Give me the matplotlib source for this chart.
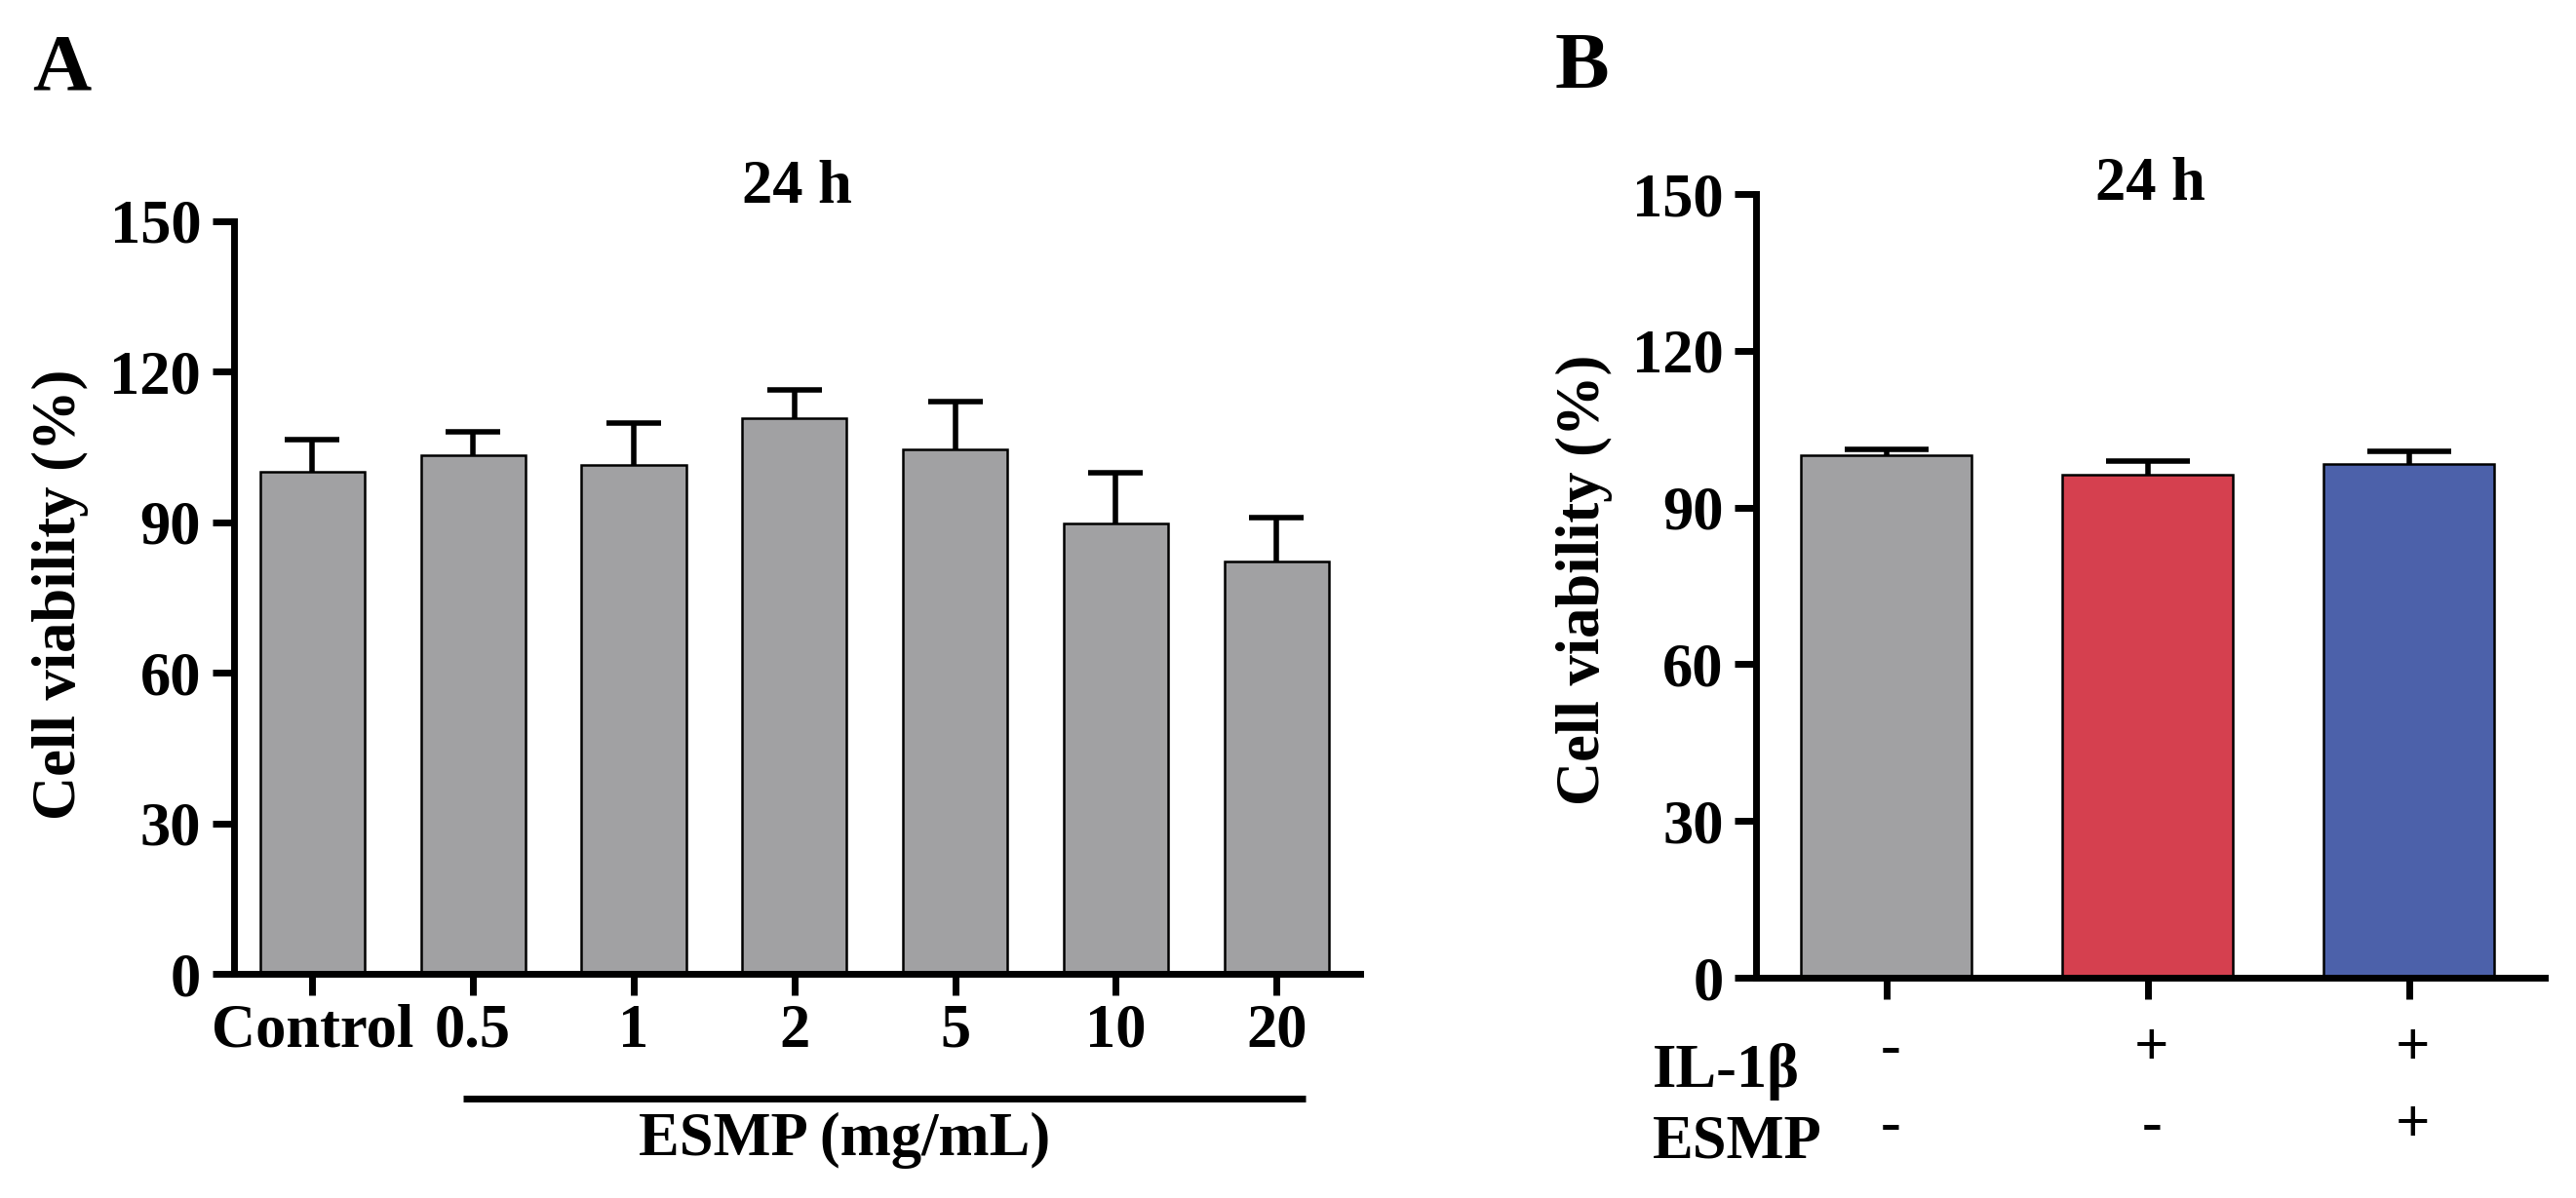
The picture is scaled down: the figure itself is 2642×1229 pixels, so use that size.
import matplotlib
matplotlib.use("Agg")
import matplotlib.pyplot as plt
from matplotlib.transforms import blended_transform_factory

plt.rcParams['font.family'] = ['Liberation Serif', 'DejaVu Serif']
plt.rcParams['font.weight'] = 'bold'

# ---------------- data ----------------
cats_a = ["Control", "0.5", "1", "2", "5", "10", "20"]
mean_a = [100.0, 103.3, 101.4, 110.7, 104.6, 89.8, 82.2]
sd_a = [6.5, 4.8, 8.4, 5.7, 9.4, 10.1, 8.8]

il1b_b = ["-", "+", "+"]
esmp_b = ["-", "-", "+"]
mean_b = [100.0, 96.2, 98.3]
sd_b = [1.2, 2.7, 2.5]
colors_b = ["#a1a1a3", "#d5404f", "#4c61aa"]

yticks = [0, 30, 60, 90, 120, 150]
title = "24 h"
ylabel = "Cell viability (%)"

W, H = 2642, 1229
fig = plt.figure(figsize=(W / 100, H / 100), dpi=100)

def fx(px):
    return px / W

def fy(py):
    return 1 - py / H

FS = 45
SPW = 5.0

def style(ax):
    for s in ["top", "right"]:
        ax.spines[s].set_visible(False)
    for s in ["left", "bottom"]:
        ax.spines[s].set_linewidth(SPW)
    ax.tick_params(width=SPW, length=16, labelsize=FS)
    ax.tick_params(axis='y', pad=8)
    ax.tick_params(axis='x', pad=6)
    ax.set_ylim(0, 150)
    ax.set_yticks(yticks)
    for lab in ax.get_yticklabels() + ax.get_xticklabels():
        lab.set_fontweight('bold')

# ---------------- panel A ----------------
axA = fig.add_axes([fx(239.5), fy(999), fx(1395) - fx(239.5), fy(227) - fy(999)])
xa = list(range(len(cats_a)))
# symmetric error bars drawn behind the bars: only the upper half stays visible
axA.errorbar(xa, mean_a, yerr=sd_a, fmt='none', ecolor='black',
             elinewidth=4, capsize=20, capthick=4, zorder=1)
axA.bar(xa, mean_a, width=0.65, color="#a1a1a3", edgecolor='black', linewidth=1.8, zorder=2)
axA.set_xlim(-0.49, 6.52)
axA.set_xticks(xa)
axA.set_xticklabels(cats_a)
style(axA)

trA = blended_transform_factory(axA.transData, fig.transFigure)
axA.plot([0.94, 6.18], [fy(1127), fy(1127)], color='black', lw=5, transform=trA,
         clip_on=False, solid_capstyle='butt')
axA.text(3.31, fy(1185), "ESMP (mg/mL)", transform=trA, ha='center', va='baseline',
         fontsize=FS, fontweight='bold')

fig.text(fx(817), fy(208), title, ha='center', va='baseline', fontsize=FS, fontweight='bold')
fig.text(fx(62), fy(610), ylabel, rotation=90, ha='center', va='center',
         fontsize=FS, fontweight='bold')
fig.text(fx(33), fy(92), "A", ha='left', va='baseline', fontsize=60, fontweight='bold')

# ---------------- panel B ----------------
axB = fig.add_axes([fx(1801), fy(1003), fx(2610) - fx(1801), fy(199) - fy(1003)])
xb = list(range(len(mean_b)))
axB.errorbar(xb, mean_b, yerr=sd_b, fmt='none', ecolor='black',
             elinewidth=4, capsize=31, capthick=4, zorder=1)
axB.bar(xb, mean_b, width=0.653, color=colors_b, edgecolor='black', linewidth=1.8, zorder=2)
axB.set_xlim(-0.5, 2.519)
axB.set_xticks(xb)
axB.set_xticklabels([""] * len(xb))
style(axB)

trB = blended_transform_factory(axB.transData, fig.transFigure)
for i in xb:
    axB.text(i + 0.015, fy(1092), il1b_b[i], transform=trB, ha='center', va='baseline',
             fontsize=FS, fontweight='bold')
    axB.text(i + 0.015, fy(1171), esmp_b[i], transform=trB, ha='center', va='baseline',
             fontsize=FS, fontweight='bold')
fig.text(fx(1695), fy(1115), "IL-1β", ha='left', va='baseline', fontsize=FS, fontweight='bold')
fig.text(fx(1695), fy(1188), "ESMP", ha='left', va='baseline', fontsize=FS, fontweight='bold')

fig.text(fx(2205), fy(205), title, ha='center', va='baseline', fontsize=FS, fontweight='bold')
fig.text(fx(1625), fy(595), ylabel, rotation=90, ha='center', va='center',
         fontsize=FS, fontweight='bold')
fig.text(fx(1595), fy(90), "B", ha='left', va='baseline', fontsize=60, fontweight='bold')

fig.savefig("out.png", dpi=100, facecolor='white')
